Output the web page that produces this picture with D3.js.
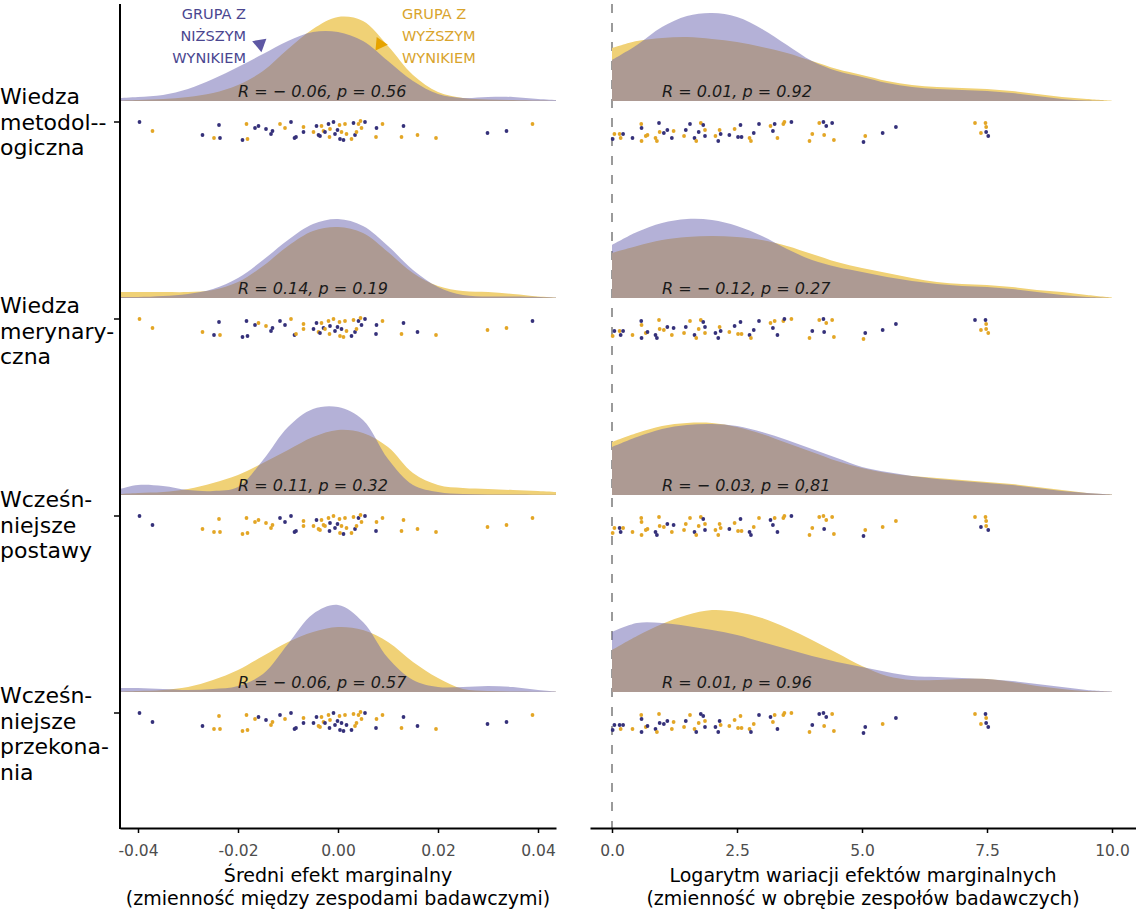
<!DOCTYPE html>
<html>
<head>
<meta charset="utf-8">
<script src="https://cdn.jsdelivr.net/npm/d3@7/dist/d3.min.js"></script>
<style>
  body { margin: 0; background: #fff; }
  svg { display: block; font-family: "DejaVu Sans", sans-serif; }
</style>
</head>
<body>
<svg id="chart" width="1136" height="912"></svg>
<script>
/* ---------------- data ---------------- */

// wiersze (od gory)
const categories = ["metodologiczna", "merynaryczna", "postawy", "przekonania"];
const categoryLabels = [
  ["Wiedza", "metodol--", "ogiczna"],
  ["Wiedza", "merynary-", "czna"],
  ["Wcześn-", "niejsze", "postawy"],
  ["Wcześn-", "niejsze", "przekona-", "nia"]
];

// siatka gestosci
const gridLeft = [-0.0436, -0.04, -0.035, -0.03, -0.025, -0.02, -0.015, -0.01, -0.005, 0,
  0.005, 0.01, 0.015, 0.02, 0.025, 0.03, 0.035, 0.04, 0.0436];
const gridRight = [0, 0.5, 1, 1.5, 2, 2.5, 3, 3.5, 4, 4.5, 5, 5.5, 6, 6.5, 7, 7.5, 8, 8.5, 9, 9.5, 10];

// gestosci (wzgledne) - grupa z nizszym wynikiem (N) i z wyzszym (W)
const densLeftN = [
  [3, 4, 6, 12, 22, 34, 47, 60, 69, 69, 60, 40, 20, 7, 3, 4, 4, 2, 1],
  [1, 1, 2, 4, 9, 20, 38, 58, 74, 79, 72, 52, 28, 11, 3, 1.5, 1.5, 1, 0.5],
  [6, 10, 9, 5, 4, 8, 35, 68, 86, 88, 75, 36, 10, 3, 1, 0.5, 0.5, 0.3, 0.2],
  [4, 4, 3, 2, 3, 6, 18, 48, 78, 87, 70, 34, 12, 5, 5, 6, 5, 2, 0.5]
];
const densLeftW = [
  [0.5, 1, 2, 4, 8, 16, 30, 52, 72, 84, 80, 55, 26, 9, 3, 1.5, 1, 0.5, 0.3],
  [6, 6, 6, 6, 8, 16, 32, 52, 67, 71, 65, 46, 25, 12, 7, 6, 4, 1.5, 0.5],
  [1, 2, 3, 6, 12, 20, 32, 45, 58, 65, 62, 48, 22, 10, 7, 6, 5, 4, 3],
  [0.5, 1, 2, 5, 12, 22, 36, 50, 60, 65, 62, 50, 30, 14, 3, 1, 0.5, 0.3, 0.2]
];
const densRightN = [
  [41, 56, 74, 85, 88, 84, 72, 56, 40, 30, 24, 18, 14, 12, 11, 10, 8, 5, 2, 0.5, 0],
  [53, 66, 75, 79, 78, 72, 62, 49, 38, 31, 26, 21, 17, 14, 12, 11, 9, 6, 3, 1, 0],
  [48, 58, 66, 70, 71, 69, 63, 55, 46, 37, 28, 23, 19, 16, 14, 12, 10, 7, 4, 2, 0.5],
  [60, 69, 69, 66, 62, 57, 50, 43, 36, 30, 25, 20, 16, 15, 14, 13, 11, 8, 5, 2, 0.5]
];
const densRightW = [
  [53, 60, 63, 64, 62, 59, 54, 48, 40, 32, 26, 20, 16, 14, 13, 12, 10, 7, 4, 2, 0.3],
  [45, 52, 58, 61, 62, 61, 58, 52, 44, 36, 30, 25, 20, 16, 14, 13, 11, 8, 6, 3, 0.5],
  [53, 62, 69, 72, 72, 68, 61, 52, 43, 34, 27, 22, 19, 17, 15, 13, 11, 8, 5, 2, 0.5],
  [42, 56, 68, 77, 82, 80, 74, 64, 52, 39, 26, 16, 12, 12, 13, 13, 10, 6, 3, 1, 0.3]
];

// wyniki korelacji
const rLeft = ["R = − 0.06, p = 0.56", "R = 0.14, p = 0.19", "R = 0.11, p = 0.32", "R = − 0.06, p = 0.57"];
const rRight = ["R = 0.01, p = 0.92", "R = − 0.12, p = 0.27", "R = − 0.03, p = 0,81", "R = 0.01, p = 0.96"];

// punkty: zespoly badawcze (te same w kazdym wierszu)
const dotsLeftX = [-0.0397, -0.0371, -0.0271, -0.0238, -0.0248, -0.0236, -0.0191, -0.0181, -0.0183, -0.0166,
  -0.0159, -0.0144, -0.0134, -0.0131, -0.0116, -0.0106, -0.0094, -0.0087, -0.0084, -0.0069,
  -0.0069, -0.0049, -0.0043, -0.0039, -0.0036, -0.0033, -0.0029, -0.0026, -0.0019, -0.0017,
  -0.0016, -0.0009, -0.0006, -0.0001, 0.0003, 0.0004, 0.0007, 0.0011, 0.0014, 0.0017,
  0.0027, 0.0031, 0.0034, 0.0037, 0.0041, 0.0045, 0.0047, 0.0054, 0.0076, 0.0077,
  0.0089, 0.0127, 0.0131, 0.0159, 0.0196, 0.0299, 0.0337, 0.0389];
const dotsLeftJitter = [1, 10, 14, 4, 17, 17, 19, 18, 3, 7, 5, 8, 13, 10, 3, 7, 1, 17, 16, 11,
  6, 11, 5, 14, 15, 5, 10, 11, 3, 16, 8, 1, 13, 9, 4, 18, 11, 19, 3, 13,
  18, 2, 14, 11, 3, 0, 7, 1, 16, 7, 3, 16, 5, 14, 17, 12, 10, 3];
// N = grupa z nizszym wynikiem, W = grupa z wyzszym wynikiem
const groupsLeft = [
  "NWNNWNNWWN" + "NNNNWWNNNN" + "WWNNNWWNNW" + "WNNNWNWNWW" + "WNNWWWWNWN" + "WWNWWNNW",
  "WWWNNWNNNN" + "WWNNNNWNWW" + "WNNWNWNWWW" + "NWNNWWNWWW" + "NWNWNWNNNN" + "WWNNWWWN",
  "NNWWWWWWWW" + "WWWWNNNNNW" + "WWNWWWWWWN" + "NWNNWWWNWW" + "WWNWNWWNNW" + "WWWWWWWW",
  "NNNWWWWWWW" + "NNWWNWNNNN" + "WNNWWWWNWN" + "WNNNWNNNWN" + "NWWWWWWNNW" + "WWNNWNNW"
];

const dotsRightX = [0.013, 0.048, 0.152, 0.173, 0.222, 0.41, 0.585, 0.591, 0.591, 0.675,
  0.71, 0.87, 0.898, 0.94, 0.953, 1.037, 1.107, 1.197, 1.232, 1.441,
  1.476, 1.56, 1.65, 1.685, 1.734, 1.776, 1.825, 1.86, 1.86, 2.069,
  2.125, 2.152, 2.173, 2.347, 2.452, 2.521, 2.57, 2.591, 2.751, 2.779,
  2.835, 2.94, 3.17, 3.218, 3.253, 3.309, 3.427, 3.448, 3.588, 3.95,
  4.006, 4.145, 4.229, 4.243, 4.285, 4.403, 4.438, 5.03, 5.065, 5.413,
  5.678, 7.26, 7.47, 7.483, 7.379, 7.483, 7.525];
const dotsRightJitter = [18, 13, 13, 17, 13, 17, 3, 7, 20, 15, 14, 17, 20, 2, 11, 12, 9, 17, 10, 15,
  9, 3, 17, 20, 11, 2, 4, 9, 15, 15, 20, 9, 13, 14, 8, 16, 4, 16, 17, 20,
  12, 3, 5, 10, 3, 17, 3, 1, 1, 20, 13, 2, 1, 14, 5, 2, 19, 21, 15, 12,
  6, 2, 2, 6, 12, 11, 15];
const groupsRight = [
  "NWWWNNWNWW" + "WWWNWNNNWW" + "NNNWNWNWNW" + "NWNNWNNNWW" + "NNWNNWWWNW" + "WWNWNNWNWN" + "NWWWWNN",
  "WNWNNWNWNW" + "NNNWWWNWNW" + "NWNWWWNNWN" + "NWNWNWNWNW" + "NNWNWNWNWW" + "NWNNWWWWNN" + "NNNWWWW",
  "WWNNWWWWWW" + "WNNWWWNWNW" + "WWNWWWNWNW" + "WWWNWWNWNN" + "WWNNWNWWNW" + "WWWNWWWNWW" + "WWWWNWN",
  "NNNWNWWNNW" + "NNWWNNNWWW" + "NWWNWNNWNN" + "NNWWWWWWWN" + "WNNWWNWWWW" + "NNNWNWWNNW" + "NWNWWNN"
];

// osie
const ticksLeft = [-0.04, -0.02, 0, 0.02, 0.04];
const tickLabelsLeft = ["-0.04", "-0.02", "0.00", "0.02", "0.04"];
const ticksRight = [0, 2.5, 5, 7.5, 10];
const tickLabelsRight = ["0.0", "2.5", "5.0", "7.5", "10.0"];
const titleLeft = ["Średni efekt marginalny", "(zmienność między zespodami badawczymi)"];
const titleRight = ["Logarytm wariacji efektów marginalnych", "(zmienność w obrębie zespołów badawczych)"];

/* ---------------- drawing ---------------- */

const colN = "#6963af", colW = "#f0d176";
const dotN = "#35317a", dotW = "#e3a626";

const svg = d3.select("#chart");

const xL = d3.scaleLinear().domain([-0.0436, 0.0436]).range([120, 556]);
const xR = d3.scaleLinear().domain([-0.44, 10.48]).range([590, 1136]);
const yRow = d3.scalePoint().domain(categories).range([122, 713]);
const h = d3.scaleLinear().domain([0, 100]).range([0, 100]);
const jit = d3.scaleLinear().domain([0, 20]).range([-1, 19]);

// przerywana linia zero (prawy panel)
svg.append("line")
  .attr("x1", xR(0)).attr("x2", xR(0))
  .attr("y1", 4).attr("y2", 828)
  .attr("stroke", "#9a9a9a").attr("stroke-width", 2)
  .attr("stroke-dasharray", "9,10");

function panel(x, grid, densN, densW, groups, dx, djit, rTexts, rAnchor) {
  const g = svg.append("g");
  categories.forEach(function(c, i) {
    const base = yRow(c) - 21;
    const area = d3.area()
      .x(function(d, k) { return x(grid[k]); })
      .y0(base)
      .y1(function(d) { return base - h(d); })
      .curve(d3.curveCatmullRom.alpha(0.5));

    g.append("path").datum(densW[i]).attr("d", area).attr("fill", colW);
    g.append("path").datum(densN[i]).attr("d", area).attr("fill", colN).attr("fill-opacity", 0.5);

    g.append("text")
      .attr("x", x(rAnchor)).attr("y", base - 4)
      .attr("font-size", 16).attr("font-style", "italic")
      .attr("fill", "#1a1a1a")
      .text(rTexts[i]);

    g.append("g").selectAll("circle")
      .data(dx)
      .enter().append("circle")
        .attr("cx", function(d) { return x(d); })
        .attr("cy", function(d, k) { return yRow(c) + jit(djit[k]); })
        .attr("r", 1.9)
        .attr("fill", function(d, k) { return groups[i][k] == "N" ? dotN : dotW; });
  });
}

panel(xL, gridLeft, densLeftN, densLeftW, groupsLeft, dotsLeftX, dotsLeftJitter, rLeft, -0.02);
panel(xR, gridRight, densRightN, densRightW, groupsRight, dotsRightX, dotsRightJitter, rRight, 1.0);

// os Y (lewa)
svg.append("line")
  .attr("x1", 120).attr("x2", 120).attr("y1", 4).attr("y2", 829)
  .attr("stroke", "#000").attr("stroke-width", 2);

const labelShift = [-18, -6, -9, -10];
categories.forEach(function(c, i) {
  svg.append("line")
    .attr("x1", 114).attr("x2", 120)
    .attr("y1", yRow(c)).attr("y2", yRow(c))
    .attr("stroke", "#000").attr("stroke-width", 1.5);
  categoryLabels[i].forEach(function(line, j) {
    svg.append("text")
      .attr("x", 0).attr("y", yRow(c) + labelShift[i] + j * 25.5)
      .attr("font-size", 22).attr("fill", "#000")
      .text(line);
  });
});

// osie X
function bottomAxis(x, ticks, labels, title) {
  const ax = svg.append("g")
    .attr("transform", "translate(0,828)")
    .call(d3.axisBottom(x).tickValues(ticks)
      .tickFormat(function(d, i) { return labels[i]; })
      .tickSize(5).tickSizeOuter(0).tickPadding(12));
  ax.select(".domain").attr("stroke", "#000").attr("stroke-width", 2);
  ax.selectAll(".tick line").attr("stroke", "#000").attr("stroke-width", 1.5);
  ax.selectAll(".tick text")
    .attr("font-size", 15.5).attr("font-family", "DejaVu Sans")
    .attr("fill", "#4d4d4d");
  const mid = (x.range()[0] + x.range()[1]) / 2;
  title.forEach(function(t, j) {
    svg.append("text")
      .attr("x", mid).attr("y", 882 + j * 22.5)
      .attr("text-anchor", "middle")
      .attr("font-size", 19).attr("fill", "#000")
      .text(t);
  });
}
bottomAxis(xL, ticksLeft, tickLabelsLeft, titleLeft);
bottomAxis(xR, ticksRight, tickLabelsRight, titleRight);

// legenda (adnotacje)
const legN = ["GRUPA Z", "NIŻSZYM", "WYNIKIEM"];
const legW = ["GRUPA Z", "WYŻSZYM", "WYNIKIEM"];
legN.forEach(function(t, j) {
  svg.append("text").attr("x", 246).attr("y", 19 + j * 22)
    .attr("text-anchor", "end").attr("font-size", 14.5)
    .attr("fill", "#4a4690").text(t);
});
legW.forEach(function(t, j) {
  svg.append("text").attr("x", 402).attr("y", 19 + j * 22)
    .attr("text-anchor", "start").attr("font-size", 14.5)
    .attr("fill", "#d9a42c").text(t);
});
svg.append("path")
  .attr("d", d3.symbol(d3.symbolTriangle, 90)())
  .attr("transform", "translate(260,44) rotate(170)")
  .attr("fill", "#5e58a4");
svg.append("path")
  .attr("d", d3.symbol(d3.symbolTriangle, 80)())
  .attr("transform", "translate(380,44) rotate(-25)")
  .attr("fill", "#e6a300");
</script>
</body>
</html>
